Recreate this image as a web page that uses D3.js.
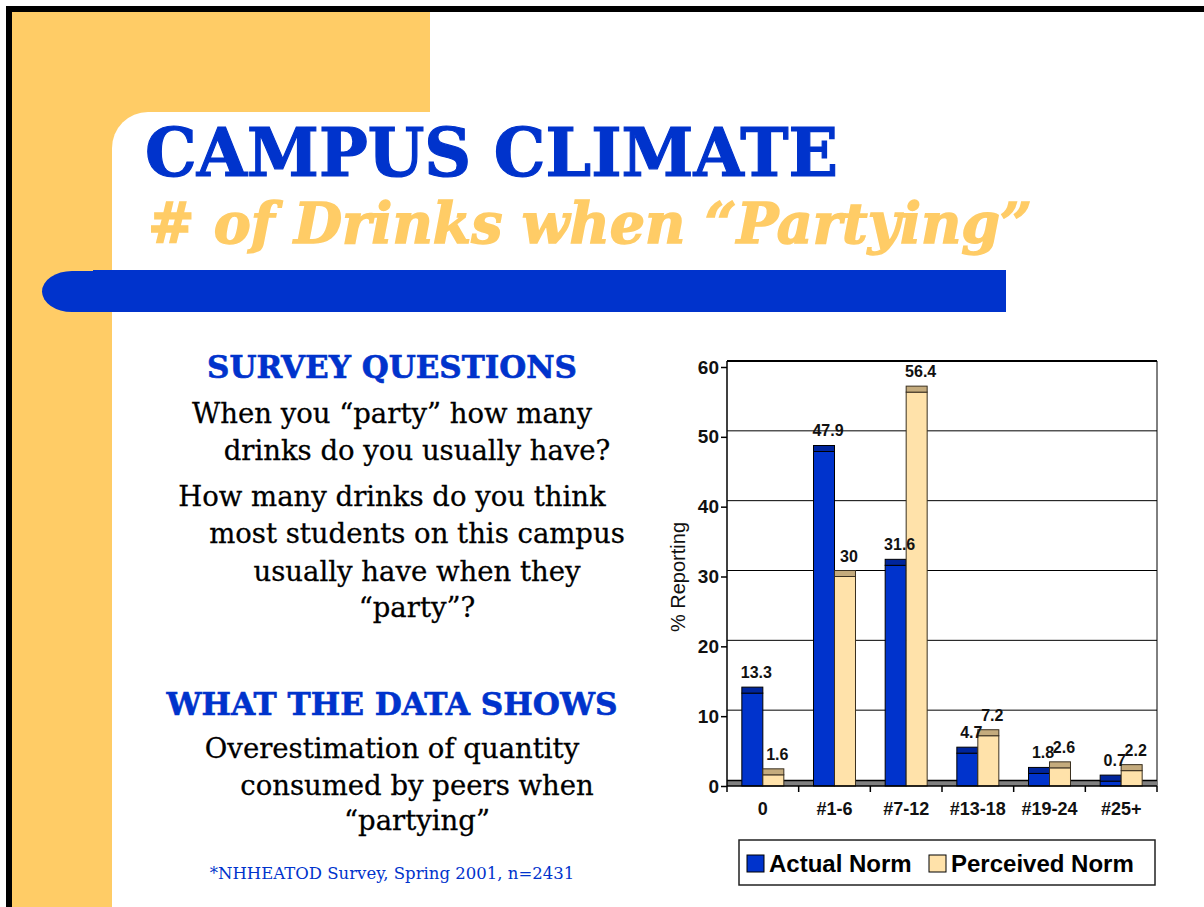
<!DOCTYPE html>
<html>
<head>
<meta charset="utf-8">
<script src="https://cdn.jsdelivr.net/npm/d3@7"></script>
<style>
  html, body { margin: 0; padding: 0; background: #fff; }
  svg { display: block; }
</style>
</head>
<body>
<div id="slide"></div>
<script>
'use strict';

const w = 1204;
const h = 907;

// chart data
const categories = ["0", "#1-6", "#7-12", "#13-18", "#19-24", "#25+"];
const seriesNames = ["Actual Norm", "Perceived Norm"];
const actualNorm = [13.3, 47.9, 31.6, 4.7, 1.8, 0.7];
const perceivedNorm = [1.6, 30, 56.4, 7.2, 2.6, 2.2];
const yTicks = [0, 10, 20, 30, 40, 50, 60];

// slide text
const surveyLines = [
  { t: "When you \u201cparty\u201d how many", hang: false },
  { t: "drinks do you usually have?", hang: true },
  { t: "How many drinks do you think", hang: false },
  { t: "most students on this campus", hang: true },
  { t: "usually have when they", hang: true },
  { t: "\u201cparty\u201d?", hang: true }
];
const dataLines = [
  { t: "Overestimation of quantity", hang: false },
  { t: "consumed by peers when", hang: true },
  { t: "\u201cpartying\u201d", hang: true }
];

const blue = "#0033CC";
const gold = "#FFCC66";
const serif = "'DejaVu Serif', serif";
const sans = "'Liberation Sans', Arial, sans-serif";

const svg = d3.select("#slide").append("svg").
attr("width", w).
attr("height", h);

//Slide background shapes (yellow L, white panel with rounded corner on top of it)
svg.append("rect").attr("x", 12).attr("y", 12).attr("width", 418).attr("height", 150).attr("fill", gold);
svg.append("rect").attr("x", 12).attr("y", 12).attr("width", 100).attr("height", h).attr("fill", gold);
svg.append("rect").attr("x", 112).attr("y", 112).attr("width", w).attr("height", h + 100).attr("rx", 36).attr("fill", "#fff");
svg.append("rect").attr("x", 6).attr("y", 6).attr("width", w).attr("height", 6).attr("fill", "#000");
svg.append("rect").attr("x", 6).attr("y", 6).attr("width", 6).attr("height", h).attr("fill", "#000");

//Blue rule with rounded left end
svg.append("rect").attr("x", 42).attr("y", 271).attr("width", 200).attr("height", 41).
attr("rx", 30).attr("ry", 20.5).attr("fill", blue);
svg.append("rect").attr("x", 93).attr("y", 270).attr("width", 913).attr("height", 42).attr("fill", blue);

//Titles
svg.append("text").
attr("x", 145).attr("y", 176).
attr("textLength", 693).attr("lengthAdjust", "spacingAndGlyphs").
style("font-family", serif).style("font-weight", "bold").style("font-size", "67px").
attr("fill", blue).attr("stroke", blue).attr("stroke-width", 1.2).
text("CAMPUS CLIMATE");

svg.append("text").
attr("x", 148).attr("y", 243).
attr("textLength", 884).attr("lengthAdjust", "spacingAndGlyphs").
style("font-family", serif).style("font-weight", "bold").style("font-style", "italic").style("font-size", "56px").
attr("fill", gold).attr("stroke", gold).attr("stroke-width", 1.5).
text("# of Drinks when \u201cPartying\u201d");

//Left column text
const colCenter = 392;
const hangShift = 25;

function heading(txt, y, len) {
  svg.append("text").
  attr("x", colCenter).attr("y", y).
  attr("text-anchor", "middle").
  attr("textLength", len).attr("lengthAdjust", "spacingAndGlyphs").
  style("font-family", serif).style("font-weight", "bold").style("font-size", "31px").
  attr("fill", blue).attr("stroke", blue).attr("stroke-width", 0.6).
  text(txt);
}

function para(lines, baselines) {
  svg.append("g").selectAll("text").
  data(lines).
  enter().
  append("text").
  attr("x", d => colCenter + (d.hang ? hangShift : 0)).
  attr("y", (d, i) => baselines[i]).
  attr("text-anchor", "middle").
  style("font-family", serif).style("font-size", "27.5px").
  attr("fill", "#000").attr("stroke", "#000").attr("stroke-width", 0.3).
  text(d => d.t);
}

heading("SURVEY QUESTIONS", 378, 370);
para(surveyLines, [423, 460, 506, 543, 581, 617]);
heading("WHAT THE DATA SHOWS", 715, 451);
para(dataLines, [758, 795, 830]);

svg.append("text").
attr("x", colCenter).attr("y", 879).
attr("text-anchor", "middle").
style("font-family", serif).style("font-size", "16.5px").
attr("fill", blue).
text("*NHHEATOD Survey, Spring 2001, n=2431");

//CHART
const left = 727, right = 1157;
const depth = 6;

const x = d3.scaleBand().
domain(categories).
range([left, right]);

const xSub = d3.scaleBand().
domain(seriesNames).
range([0, x.bandwidth()]).
paddingOuter(0.707);

const y = d3.scaleLinear().
domain([0, 60]).
range([786, 367]);

const fills = {
  "Actual Norm": { front: blue, top: "#00259C", stroke: "#000" },
  "Perceived Norm": { front: "#FFE2AA", top: "#C4AB7D", stroke: "#3a3020" } };

const chart = svg.append("g");

//Back wall gridlines
chart.append("g").selectAll("line").
data(yTicks.filter(v => v > 0)).
enter().
append("line").
attr("x1", left).attr("x2", right).
attr("y1", d => y(d) - depth).attr("y2", d => y(d) - depth).
attr("stroke", "#000").
attr("stroke-width", d => d === 60 ? 2 : 1);

chart.append("line").
attr("x1", right).attr("x2", right).
attr("y1", y(60) - depth).attr("y2", y(0)).
attr("stroke", "#000");

//Floor
chart.append("rect").
attr("x", left).attr("y", y(0) - depth).
attr("width", right - left).attr("height", depth).
attr("fill", "#808080");
chart.append("line").
attr("x1", left).attr("x2", right).
attr("y1", y(0) - depth + 0.5).attr("y2", y(0) - depth + 0.5).
attr("stroke", "#000").attr("stroke-width", 1.5);

//Bars
const rows = categories.map((c, i) => [
  { cat: c, series: "Actual Norm", value: actualNorm[i] },
  { cat: c, series: "Perceived Norm", value: perceivedNorm[i] }]);

const groups = chart.selectAll("g.cat").
data(rows).
enter().
append("g").
classed("cat", true).
attr("transform", d => "translate(" + x(d[0].cat) + ",0)");

const bars = groups.selectAll("g.bar").
data(d => d).
enter().
append("g").
classed("bar", true);

bars.append("rect").
attr("x", d => xSub(d.series)).
attr("y", d => y(d.value)).
attr("width", xSub.bandwidth()).
attr("height", d => y(0) - y(d.value)).
attr("fill", d => fills[d.series].front).
attr("stroke", d => fills[d.series].stroke).
attr("stroke-width", 1);

bars.append("rect").
attr("x", d => xSub(d.series)).
attr("y", d => y(d.value) - depth).
attr("width", xSub.bandwidth()).
attr("height", depth).
attr("fill", d => fills[d.series].top).
attr("stroke", d => fills[d.series].stroke).
attr("stroke-width", 1);

//Value labels, drawn above all bars
chart.append("g").selectAll("text").
data(rows.flat()).
enter().
append("text").
attr("x", d => x(d.cat) + xSub(d.series) + xSub.bandwidth() / 2 + 4).
attr("y", d => y(d.value) - depth - 9).
attr("text-anchor", "middle").
style("font-family", sans).style("font-weight", "bold").style("font-size", "16px").
attr("fill", "#111").
text(d => d.value);

//Y axis
chart.append("line").
attr("x1", left).attr("x2", left).
attr("y1", y(60) - depth).attr("y2", y(0)).
attr("stroke", "#000").attr("stroke-width", 1.5);

const yAxis = chart.append("g").
attr("transform", "translate(" + left + ",0)").
call(d3.axisLeft(y).tickValues(yTicks).tickSize(6).tickSizeOuter(0).tickPadding(2));
yAxis.select(".domain").remove();
yAxis.selectAll("line").attr("stroke", "#000").attr("stroke-width", 1.5);
yAxis.selectAll("text").
style("font-family", sans).style("font-weight", "bold").style("font-size", "19px").
attr("fill", "#111");

chart.append("text").
attr("transform", "translate(685,577) rotate(-90)").
attr("text-anchor", "middle").
style("font-family", sans).style("font-size", "20px").
attr("fill", "#111").
text("% Reporting");

//X axis
chart.append("line").
attr("x1", left).attr("x2", right).
attr("y1", y(0)).attr("y2", y(0)).
attr("stroke", "#000").attr("stroke-width", 1.5);

chart.append("g").selectAll("line").
data(categories.map(c => x(c)).concat([right])).
enter().
append("line").
attr("x1", d => d).attr("x2", d => d).
attr("y1", y(0)).attr("y2", y(0) + 6).
attr("stroke", "#000").attr("stroke-width", 1.5);

chart.append("g").selectAll("text").
data(categories).
enter().
append("text").
attr("x", d => x(d) + x.bandwidth() / 2).
attr("y", y(0) + 29).
attr("text-anchor", "middle").
style("font-family", sans).style("font-weight", "bold").style("font-size", "18px").
attr("fill", "#111").
text(d => d);

//LEGEND
const legend = svg.append("g").attr("transform", "translate(739,840)");
legend.append("rect").
attr("width", 416).attr("height", 45).
attr("fill", "#fff").attr("stroke", "#222").attr("stroke-width", 1.5);

const legendX = [8, 190];
const legendItem = legend.selectAll("g.legendItem").
data(seriesNames).
enter().
append("g").
classed("legendItem", true).
attr("transform", (d, i) => "translate(" + legendX[i] + ",15)");

legendItem.append("rect").
attr("width", 17).attr("height", 17).
attr("fill", d => fills[d].front).
attr("stroke", "#000");

legendItem.append("text").
attr("x", 22).attr("y", 17).
style("font-family", sans).style("font-weight", "bold").style("font-size", "24px").
attr("fill", "#000").
text(d => d);
</script>
</body>
</html>
